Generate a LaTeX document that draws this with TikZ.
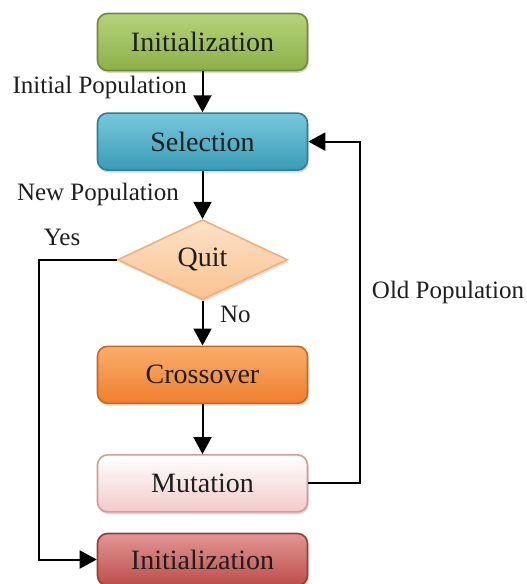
\documentclass[tikz,border=0pt]{standalone}
\usepackage{fontspec}
\setmainfont{Liberation Serif}
\usepackage{tikz}
\usetikzlibrary{arrows.meta,positioning,shapes.geometric,shadows}

\definecolor{txtdark}{HTML}{1E1E1E}
\definecolor{initT}{HTML}{B5D37A}
\definecolor{initB}{HTML}{8CB04A}
\definecolor{initD}{HTML}{71893F}
\definecolor{selT}{HTML}{78C8DC}
\definecolor{selB}{HTML}{3A9BB6}
\definecolor{selD}{HTML}{2E7F95}
\definecolor{quitT}{HTML}{FDE2C6}
\definecolor{quitB}{HTML}{F9C291}
\definecolor{quitD}{HTML}{F0B07C}
\definecolor{crossT}{HTML}{FAAE6C}
\definecolor{crossB}{HTML}{EE7F2E}
\definecolor{crossD}{HTML}{C8681E}
\definecolor{mutT}{HTML}{FFFFFF}
\definecolor{mutB}{HTML}{F2CACA}
\definecolor{mutD}{HTML}{D49A9A}
\definecolor{finT}{HTML}{E29694}
\definecolor{finB}{HTML}{BC4E4B}
\definecolor{finD}{HTML}{9A3B39}

\begin{document}
\begin{tikzpicture}[x=0.5pt,y=-0.5pt,>={Triangle[length=8.5pt,width=9pt]},
font=\fontsize{12.5}{14}\selectfont,text=txtdark,
box/.style={draw,line width=0.8pt,rounded corners=5pt,minimum width=105pt,minimum height=28.5pt,
  font=\fontsize{14}{16}\selectfont,drop shadow={shadow xshift=0.6pt,shadow yshift=-1.2pt,opacity=.3}},
quitbox/.style={draw=quitD,line width=0.8pt,diamond,aspect=2.1,inner sep=1pt,minimum width=85pt,minimum height=40pt,
  top color=quitT,bottom color=quitB,font=\fontsize{14}{16}\selectfont,
  drop shadow={shadow xshift=0.6pt,shadow yshift=-1.2pt,opacity=.25}},
arr/.style={->,line width=1pt}]
\useasboundingbox (0,0) rectangle (526,584);
\node[box,top color=initT,bottom color=initB,draw=initD] (init) at (202.5,42) {Initialization};
\node[box,below=20.5pt of init,top color=selT,bottom color=selB,draw=selD] (sel) {Selection};
\node[quitbox,below=24pt of sel] (quit) {Quit};
\node[box,below=22.5pt of quit,top color=crossT,bottom color=crossB,draw=crossD] (cross) {Crossover};
\node[box,below=25pt of cross,top color=mutT,bottom color=mutB,draw=mutD] (mut) {Mutation};
\node[box,below=10pt of mut,minimum height=26pt,top color=finT,bottom color=finB,draw=finD] (final) {Initialization};
\draw[arr] (init) -- node[pos=.4,left=4pt] (lblinit) {Initial Population} (sel);
\draw[arr] (sel) -- node[pos=.5,left=8pt] (lblnew) {New Population} (quit);
\draw[arr] (quit) -- node[pos=.3,right=5pt] (lblno) {No} (cross);
\draw[arr] (cross) -- (mut);
\draw[arr] (quit.west) -- node[pos=.7,above=3pt] (lblyes) {Yes} ++(-78,0) |- (final.west);
\draw[arr] (mut.east) -- ++(52,0) |- node[pos=.28,right=2pt] (lblold) {Old Population} (sel.east);
\end{tikzpicture}
\end{document}
